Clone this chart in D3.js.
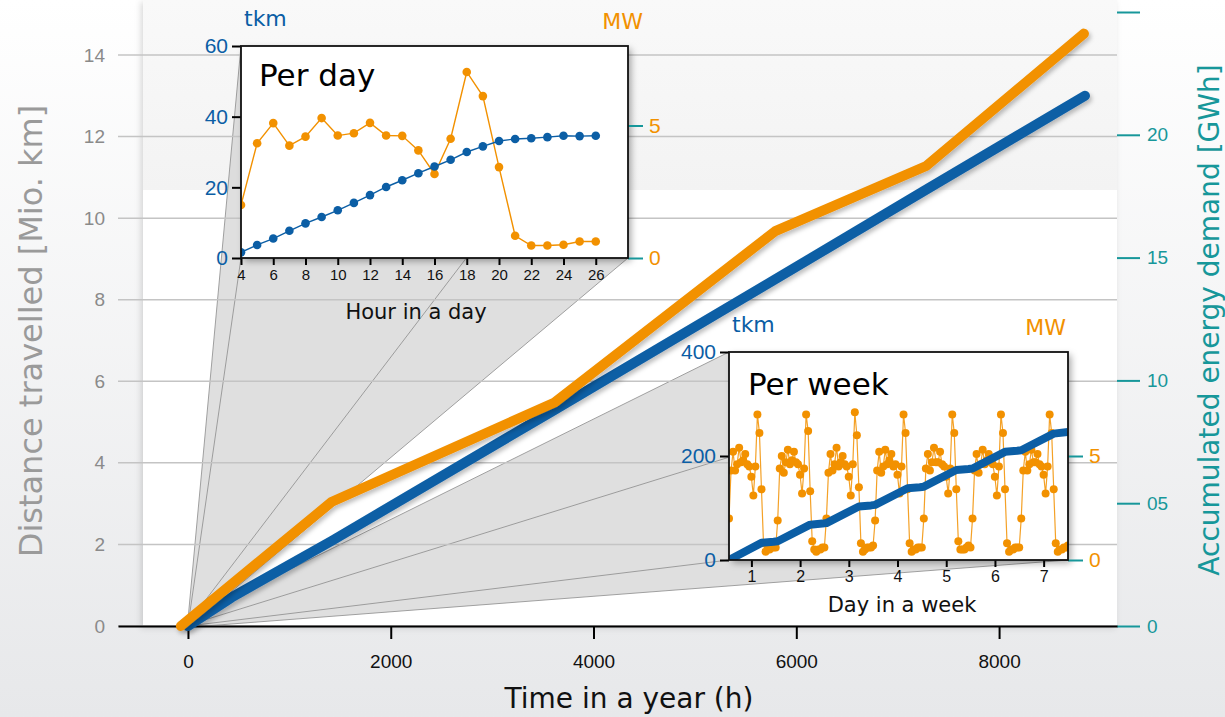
<!DOCTYPE html>
<html>
<head>
<meta charset="utf-8">
<script src="https://cdn.jsdelivr.net/npm/d3@7"></script>
<style>
  body { margin: 0; background: #fff; }
  svg { display: block; font-family: "DejaVu Sans", Verdana, sans-serif; }
</style>
</head>
<body>
<svg id="chart" width="1225" height="717"></svg>
<script>
// ---- yearly series (main chart) ----
const yearTicks = [0, 2000, 4000, 6000, 8000];
const distTicks = [0, 2, 4, 6, 8, 10, 12, 14];
const energyTicks = [0, 5, 10, 15, 20, 25];
const distHours = [0, 430, 1420, 3616, 5793, 7281, 8847];
const distValues = [0, 0.70, 2.09, 5.30, 8.50, 10.70, 13.0];      // Mio. km
const energyHours = [-70, 1420, 3616, 5793, 7281, 8837];
const energyValues = [0, 5.06, 9.10, 16.08, 18.73, 24.12];         // GWh

// ---- per day inset ----
const dayHours = [4, 5, 6, 7, 8, 9, 10, 11, 12, 13, 14, 15, 16, 17, 18, 19, 20, 21, 22, 23, 24, 25, 26];
const dayDist = [1.6, 3.7, 5.5, 7.7, 9.8, 11.6, 13.5, 15.6, 17.8, 20.1, 22.0, 24.0, 25.9, 27.8, 30.0, 31.6, 33.1, 33.7, 33.9, 34.2, 34.6, 34.5, 34.6];
const dayPower = [2.0, 4.33, 5.09, 4.24, 4.58, 5.28, 4.62, 4.71, 5.10, 4.62, 4.61, 4.06, 3.17, 4.50, 7.02, 6.11, 3.43, 0.84, 0.47, 0.47, 0.50, 0.62, 0.62];
const dayTicks = [4, 6, 8, 10, 12, 14, 16, 18, 20, 22, 24, 26];
const dayDistTicks = [0, 20, 40, 60];
const dayPowerTicks = [0, 5];

// ---- per week inset (hourly, starting 4:00 of day 1) ----
const weekPower = [
  2.0, 4.3, 5.2, 4.3, 4.6, 5.4, 4.7, 4.8, 5.1, 4.6, 4.5, 4.0, 3.1, 4.5, 7.0, 6.1, 3.4, 0.8, 0.4, 0.5, 0.5, 0.6, 0.6, 0.6,
  1.9, 4.4, 5.0, 4.2, 4.7, 5.3, 4.6, 4.8, 5.2, 4.7, 4.6, 4.1, 3.2, 4.4, 7.0, 6.2, 3.3, 0.9, 0.5, 0.4, 0.5, 0.5, 0.6, 0.6,
  2.0, 4.2, 5.1, 4.3, 4.6, 5.4, 4.5, 4.7, 5.0, 4.6, 4.5, 4.0, 3.1, 4.6, 7.1, 6.0, 3.5, 0.8, 0.4, 0.5, 0.6, 0.6, 0.6, 0.7,
  1.9, 4.3, 5.2, 4.2, 4.5, 5.3, 4.6, 4.8, 5.1, 4.5, 4.6, 4.1, 3.2, 4.5, 7.0, 6.1, 3.4, 0.8, 0.4, 0.5, 0.5, 0.6, 0.6, 0.6,
  2.0, 4.4, 5.1, 4.3, 4.7, 5.4, 4.7, 4.7, 5.2, 4.6, 4.5, 4.0, 3.2, 4.4, 7.0, 6.1, 3.4, 0.9, 0.5, 0.5, 0.5, 0.6, 0.7, 0.6,
  2.0, 4.3, 5.1, 4.2, 4.6, 5.3, 4.6, 4.8, 5.1, 4.7, 4.6, 4.0, 3.1, 4.5, 7.0, 6.1, 3.4, 0.8, 0.4, 0.5, 0.5, 0.6, 0.6, 0.6,
  2.0, 4.3, 5.2, 4.3, 4.6, 5.3, 4.7, 4.7, 5.1, 4.6, 4.5, 4.1, 3.2, 4.5, 7.0, 6.1, 3.4, 0.8, 0.4, 0.5, 0.5, 0.6, 0.6, 0.7
];
const weekDistIndex = [0, 16, 22, 24, 40, 46, 48, 64, 70, 72, 88, 94, 96, 112, 118, 120, 136, 142, 144, 160, 167];
const weekDistValues = [0, 33, 35, 36, 68, 70, 71, 103, 105, 106, 138, 140, 141, 173, 175, 176, 208, 210, 211, 243, 246];
const weekTicks = [1, 2, 3, 4, 5, 6, 7];
const weekDistTicks = [0, 200, 400];
const weekPowerTicks = [0, 5];

const blue = "#0b5ea5", orange = "#f29100", teal = "#17979a";

const svg = d3.select("#chart");
const width = 1225, height = 717;
const plot = { left: 118, right: 1117, top: 12, bottom: 626 };

const defs = svg.append("defs");
const bg = defs.append("linearGradient").attr("id", "bg").attr("x1", 0).attr("x2", 0).attr("y1", 0).attr("y2", 1);
bg.append("stop").attr("offset", "0%").attr("stop-color", "#ffffff");
bg.append("stop").attr("offset", "100%").attr("stop-color", "#e7e8ea");
const band = defs.append("linearGradient").attr("id", "band").attr("x1", 0).attr("x2", 0).attr("y1", 0).attr("y2", 1);
band.append("stop").attr("offset", "0%").attr("stop-color", "#f9f9f9");
band.append("stop").attr("offset", "100%").attr("stop-color", "#f3f3f3");
defs.append("filter").attr("id", "shadow").attr("x", "-10%").attr("y", "-10%").attr("width", "130%").attr("height", "130%")
  .append("feDropShadow").attr("dx", 3).attr("dy", 3).attr("stdDeviation", 3.5).attr("flood-color", "#000").attr("flood-opacity", 0.35);
defs.append("filter").attr("id", "lineShadow").attr("x", "-5%").attr("y", "-5%").attr("width", "115%").attr("height", "115%")
  .append("feDropShadow").attr("dx", 2).attr("dy", 3).attr("stdDeviation", 2).attr("flood-color", "#000").attr("flood-opacity", 0.25);
defs.append("filter").attr("id", "areaShadow").attr("x", "-5%").attr("y", "-5%").attr("width", "110%").attr("height", "110%")
  .append("feDropShadow").attr("dx", -2).attr("dy", 2).attr("stdDeviation", 3).attr("flood-color", "#000").attr("flood-opacity", 0.15);

// background
svg.append("rect").attr("width", width).attr("height", height).attr("fill", "url(#bg)");
svg.append("rect").attr("x", 143).attr("y", 0).attr("width", plot.right - 143).attr("height", plot.bottom)
  .attr("fill", "#fff").attr("filter", "url(#areaShadow)");
svg.append("rect").attr("x", 143).attr("y", 0).attr("width", plot.right - 143).attr("height", 190).attr("fill", "url(#band)");

// scales
const x = d3.scaleLinear().domain([-690, 9163]).range([plot.left, plot.right]);
const yDist = d3.scaleLinear().domain([0, 14]).range([plot.bottom, 55]);
const yEnergy = d3.scaleLinear().domain([0, 25]).range([plot.bottom, plot.top]);

// inset boxes
const dayBox = { x0: 241, x1: 628, y0: 46, y1: 258 };
const weekBox = { x0: 729, x1: 1068, y0: 352, y1: 560 };

// zoom cones from the origin region to the insets
function cone(box, spanHours) {
  const sx0 = x(0), sx1 = x(spanHours), sy0 = yDist(0), sy1 = yDist(0.15);
  const src = [[sx0, sy1], [sx1, sy1], [sx1, sy0], [sx0, sy0]];
  const dst = [[box.x0, box.y0], [box.x1, box.y0], [box.x1, box.y1], [box.x0, box.y1]];
  const hull = d3.polygonHull(src.concat(dst));
  const g = svg.append("g");
  g.append("path").attr("d", "M" + hull.join("L") + "Z").attr("fill", "#d2d2d2").attr("opacity", 0.72);
  g.selectAll("line").data(d3.range(4)).join("line")
    .attr("x1", i => src[i][0]).attr("y1", i => src[i][1])
    .attr("x2", i => dst[i][0]).attr("y2", i => dst[i][1])
    .attr("stroke", "#8c8c8c").attr("stroke-width", 1).attr("opacity", 0.8);
}
cone(dayBox, 24);
cone(weekBox, 168);

// gridlines
svg.append("g").selectAll("line").data(distTicks).join("line")
  .attr("x1", plot.left).attr("x2", plot.right)
  .attr("y1", d => yDist(d)).attr("y2", d => yDist(d))
  .attr("stroke", "#c4c4c4").attr("stroke-width", 1.5);

// left axis
const leftAxis = svg.append("g").attr("transform", `translate(${plot.left},0)`)
  .call(d3.axisLeft(yDist).tickValues(distTicks).tickSize(0).tickPadding(13));
leftAxis.select(".domain").remove();
leftAxis.selectAll("text").attr("fill", "#8a8a8a").style("font-size", "19px");

// right axis
const rightAxis = svg.append("g").attr("transform", `translate(${plot.right},0)`)
  .call(d3.axisRight(yEnergy).tickValues(energyTicks).tickSize(23).tickPadding(7)
    .tickFormat(d => d === 5 ? "05" : d === 25 ? "" : d));
rightAxis.select(".domain").remove();
rightAxis.selectAll("line").attr("stroke", teal).attr("stroke-width", 2);
rightAxis.selectAll("text").attr("fill", teal).style("font-size", "19px");

// bottom axis
const bottomAxis = svg.append("g").attr("transform", `translate(0,${plot.bottom})`)
  .call(d3.axisBottom(x).tickValues(yearTicks).tickSize(13).tickSizeOuter(0).tickPadding(16).tickFormat(d3.format("d")));
bottomAxis.select(".domain").attr("stroke", "#000").attr("stroke-width", 2);
bottomAxis.selectAll("line").attr("stroke", "#000").attr("stroke-width", 2);
bottomAxis.selectAll("text").attr("fill", "#111").style("font-size", "19px");

// axis titles
svg.append("text").attr("transform", "rotate(-90)").attr("x", -331).attr("y", 42)
  .attr("text-anchor", "middle").attr("fill", "#9a9a9a").style("font-size", "32px")
  .text("Distance travelled [Mio. km]");
svg.append("text").attr("transform", "rotate(-90)").attr("x", -320).attr("y", 1219)
  .attr("text-anchor", "middle").attr("fill", teal).style("font-size", "28px")
  .text("Accumulated energy demand [GWh]");
svg.append("text").attr("x", 629).attr("y", 708)
  .attr("text-anchor", "middle").attr("fill", "#111").style("font-size", "28px")
  .text("Time in a year (h)");

// main lines
const distLine = d3.line().x((d, i) => x(distHours[i])).y(d => yDist(d));
const energyLine = d3.line().x((d, i) => x(energyHours[i])).y(d => yEnergy(d));
svg.append("path").datum(distValues).attr("d", distLine)
  .attr("fill", "none").attr("stroke", blue).attr("stroke-width", 10)
  .attr("stroke-linecap", "round").attr("stroke-linejoin", "round").attr("filter", "url(#lineShadow)");
svg.append("path").datum(energyValues).attr("d", energyLine)
  .attr("fill", "none").attr("stroke", orange).attr("stroke-width", 10)
  .attr("stroke-linecap", "round").attr("stroke-linejoin", "round").attr("filter", "url(#lineShadow)");

// ---- inset helper ----
function inset(box, id) {
  const g = svg.append("g");
  g.append("rect").attr("x", box.x0).attr("y", box.y0)
    .attr("width", box.x1 - box.x0).attr("height", box.y1 - box.y0)
    .attr("fill", "#fff").attr("filter", "url(#shadow)");
  defs.append("clipPath").attr("id", id).append("rect")
    .attr("x", box.x0).attr("y", box.y0).attr("width", box.x1 - box.x0).attr("height", box.y1 - box.y0);
  const inner = g.append("g").attr("clip-path", `url(#${id})`);
  return { g, inner };
}

function insetAxes(g, box, xs, yd, yp, xTickVals, distVals, powVals, opts) {
  const ax = g.append("g").attr("transform", `translate(0,${box.y1})`)
    .call(d3.axisBottom(xs).tickValues(xTickVals).tickSize(7).tickPadding(4).tickFormat(d3.format("d")));
  ax.select(".domain").remove();
  ax.selectAll("line").attr("stroke", "#000").attr("stroke-width", 2);
  ax.selectAll("text").attr("fill", "#111").style("font-size", opts.tickFont);
  const al = g.append("g").attr("transform", `translate(${box.x0},0)`)
    .call(d3.axisLeft(yd).tickValues(distVals).tickSize(9).tickPadding(4));
  al.select(".domain").remove();
  al.selectAll("line").attr("stroke", "#000").attr("stroke-width", 2);
  al.selectAll("text").attr("fill", blue).style("font-size", "21px");
  const ar = g.append("g").attr("transform", `translate(${box.x1},0)`)
    .call(d3.axisRight(yp).tickValues(powVals).tickSize(15).tickPadding(6));
  ar.select(".domain").remove();
  ar.selectAll("line").attr("stroke", teal).attr("stroke-width", 2);
  ar.selectAll("text").attr("fill", orange).style("font-size", "21px");
  g.append("rect").attr("x", box.x0).attr("y", box.y0)
    .attr("width", box.x1 - box.x0).attr("height", box.y1 - box.y0)
    .attr("fill", "none").attr("stroke", "#111").attr("stroke-width", 1.8);
  g.append("text").attr("x", box.x0 + 3).attr("y", box.y0 - 20).attr("fill", blue)
    .style("font-size", "22px").text("tkm");
  g.append("text").attr("x", opts.mwRight).attr("y", box.y0 - 17).attr("text-anchor", "end")
    .attr("fill", orange).style("font-size", "22px").text("MW");
  g.append("text").attr("x", opts.titleX).attr("y", opts.titleY).attr("text-anchor", "middle")
    .attr("fill", "#111").style("font-size", "21px").text(opts.title);
}

// ---- per day inset ----
{
  const { g, inner } = inset(dayBox, "clipDay");
  const xs = d3.scaleLinear().domain([4, 28]).range([dayBox.x0, dayBox.x1]);
  const yd = d3.scaleLinear().domain([0, 60]).range([dayBox.y1, dayBox.y0]);
  const yp = d3.scaleLinear().domain([0, 8]).range([dayBox.y1, dayBox.y0]);

  inner.append("path").datum(dayPower)
    .attr("d", d3.line().x((d, i) => xs(dayHours[i])).y(d => yp(d)))
    .attr("fill", "none").attr("stroke", orange).attr("stroke-width", 1.4);
  inner.selectAll("circle.p").data(dayPower).join("circle").attr("class", "p")
    .attr("cx", (d, i) => xs(dayHours[i])).attr("cy", d => yp(d)).attr("r", 4.3).attr("fill", orange);
  inner.append("path").datum(dayDist)
    .attr("d", d3.line().x((d, i) => xs(dayHours[i])).y(d => yd(d)))
    .attr("fill", "none").attr("stroke", blue).attr("stroke-width", 1.4);
  inner.selectAll("circle.d").data(dayDist).join("circle").attr("class", "d")
    .attr("cx", (d, i) => xs(dayHours[i])).attr("cy", d => yd(d)).attr("r", 4.3).attr("fill", blue);

  g.append("text").attr("x", 259).attr("y", 86).attr("fill", "#000").style("font-size", "31px").text("Per day");
  insetAxes(g, dayBox, xs, yd, yp, dayTicks, dayDistTicks, dayPowerTicks,
    { tickFont: "15px", title: "Hour in a day", titleX: 416, titleY: 319, mwRight: 643 });
}

// ---- per week inset ----
{
  const { g, inner } = inset(weekBox, "clipWeek");
  const xs = d3.scaleLinear().domain([0.54, 7.5]).range([weekBox.x0, weekBox.x1]);
  const xi = i => xs(0.54 + i / 24);
  const yd = d3.scaleLinear().domain([0, 400]).range([weekBox.y1, weekBox.y0]);
  const yp = d3.scaleLinear().domain([0, 10]).range([weekBox.y1, weekBox.y0]);

  inner.append("path").datum(weekPower)
    .attr("d", d3.line().x((d, i) => xi(i)).y(d => yp(d)))
    .attr("fill", "none").attr("stroke", orange).attr("stroke-width", 1.2).attr("opacity", 0.85);
  inner.selectAll("circle.p").data(weekPower).join("circle").attr("class", "p")
    .attr("cx", (d, i) => xi(i)).attr("cy", d => yp(d)).attr("r", 4).attr("fill", orange);
  inner.append("path").datum(weekDistValues)
    .attr("d", d3.line().x((d, i) => xi(weekDistIndex[i])).y(d => yd(d)))
    .attr("fill", "none").attr("stroke", blue).attr("stroke-width", 8).attr("stroke-linejoin", "round");

  g.append("text").attr("x", 748).attr("y", 395).attr("fill", "#000").style("font-size", "31px").text("Per week");
  insetAxes(g, weekBox, xs, yd, yp, weekTicks, weekDistTicks, weekPowerTicks,
    { tickFont: "16px", title: "Day in a week", titleX: 902, titleY: 612, mwRight: 1066 });
}
</script>
</body>
</html>
